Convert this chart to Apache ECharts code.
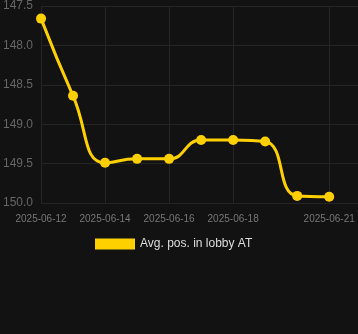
<!DOCTYPE html>
<html><head><meta charset="utf-8">
<script src="https://cdn.jsdelivr.net/npm/echarts@6/dist/echarts.min.js"></script>
<style>html,body{margin:0;padding:0;background:#121212;}#c{width:358px;height:334px;}</style>
</head><body><div id="c"></div>
<script>
const dates = ['2025-06-12','2025-06-13','2025-06-14','2025-06-15','2025-06-16','2025-06-17','2025-06-18','2025-06-19','2025-06-20','2025-06-21'];
const values = [147.66, 148.64, 149.49, 149.44, 149.44, 149.20, 149.20, 149.22, 149.91, 149.92];
const tickDates = ['2025-06-12','2025-06-14','2025-06-16','2025-06-18','2025-06-21'];
const yTicks = [147.5, 148.0, 148.5, 149.0, 149.5, 150.0];
const seriesName = 'Avg. pos. in lobby AT';

const DAY = 86400000;
const ts = d => new Date(d + 'T00:00:00Z').getTime();
const dayIdx = d => (ts(d) - ts(dates[0])) / DAY;
const chart = echarts.init(document.getElementById('c'));
chart.setOption({
  backgroundColor: '#121212',
  animation: false,
  grid: {left: 38, right: 0, top: 6, bottom: 131, containLabel: false},
  legend: {
    bottom: 79, left: 90, icon: 'rect', itemWidth: 40, itemHeight: 11, itemGap: 10,
    textStyle: {color: '#dddddd', fontSize: 12, fontFamily: 'Liberation Sans, Arial, sans-serif'},
    data: [seriesName]
  },
  xAxis: {
    type: 'value',
    min: 0,
    max: dayIdx(dates[dates.length - 1]) + 0.9,
    axisLine: {show: false},
    axisTick: {show: false, customValues: tickDates.map(dayIdx)},
    axisLabel: {
      customValues: tickDates.map(dayIdx),
      color: '#777', fontSize: 10, margin: 11, hideOverlap: false,
      fontFamily: 'Liberation Sans, Arial, sans-serif',
      formatter: v => new Date(ts(dates[0]) + Math.round(v) * DAY).toISOString().slice(0,10)
    },
    splitLine: {show: true, lineStyle: {color: '#252525', width: 1}}
  },
  yAxis: {
    type: 'value', inverse: true,
    min: yTicks[0], max: yTicks[yTicks.length - 1], interval: 0.5,
    axisLine: {show: false}, axisTick: {show: false},
    axisLabel: {color: '#666', fontSize: 12, margin: 8, fontFamily: 'Liberation Sans, Arial, sans-serif',
      formatter: v => v.toFixed(1)},
    splitLine: {lineStyle: {color: '#252525', width: 1}}
  },
  series: [{
    name: seriesName, type: 'line', smooth: true,
    data: dates.map((d, i) => [dayIdx(d), values[i]]),
    symbol: 'circle', symbolSize: 10,
    lineStyle: {color: '#ffd000', width: 3},
    itemStyle: {color: '#ffd000'}
  }]
});
</script></body></html>
